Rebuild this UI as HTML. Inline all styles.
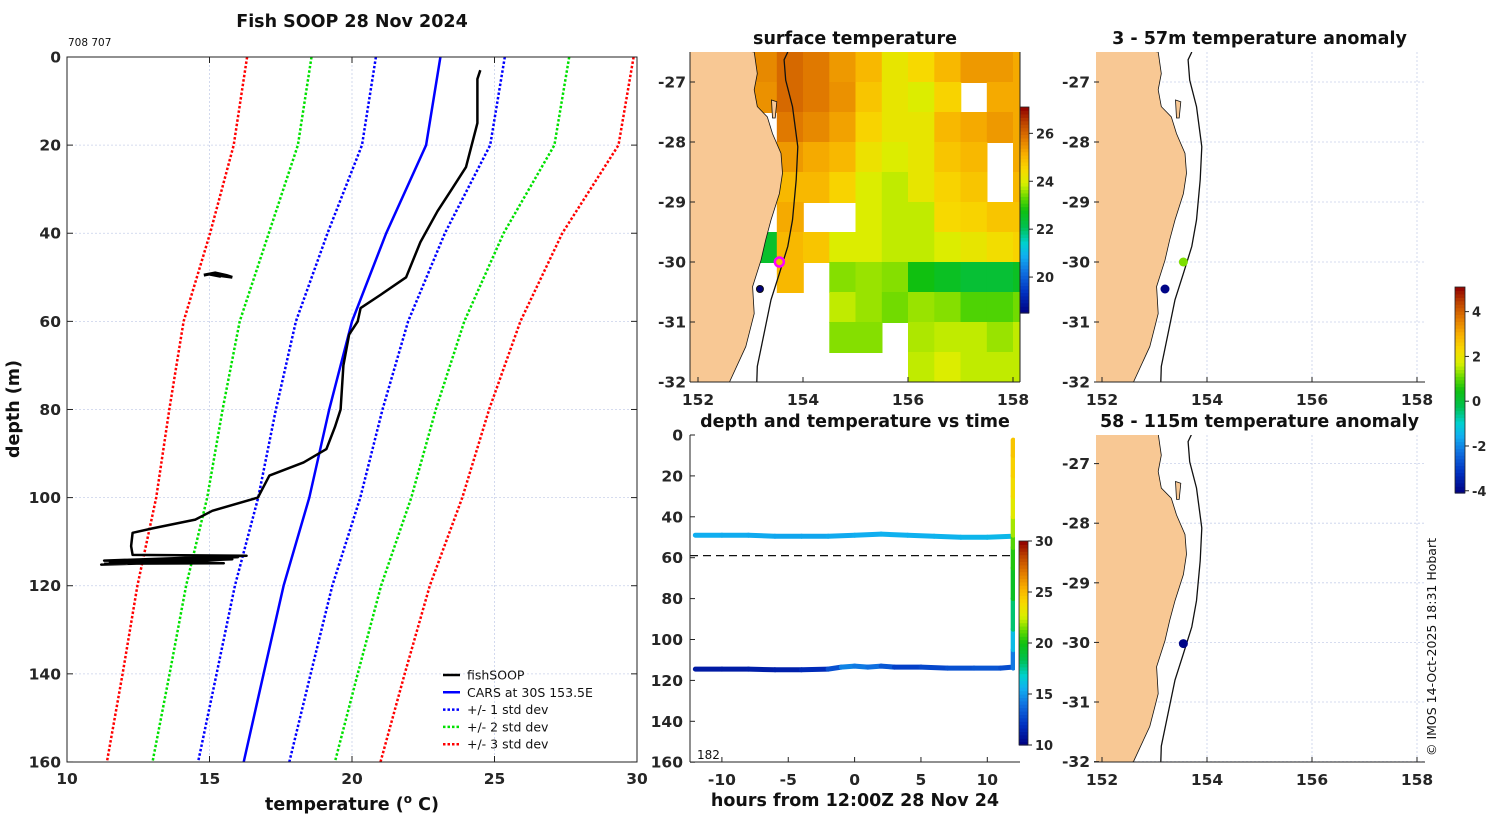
<!DOCTYPE html>
<html><head><meta charset="utf-8">
<style>
html,body{margin:0;padding:0;background:#fff;}
svg{display:block;font-family:"DejaVu Sans","Liberation Sans",sans-serif;}
.t{font-weight:bold;font-size:17.5px;fill:#111;}
.tk{font-weight:bold;font-size:15.5px;fill:#262626;}
.lg{font-size:12.5px;fill:#111;}
</style></head>
<body>
<svg id="fig" width="1500" height="820" viewBox="0 0 1500 820" xmlns="http://www.w3.org/2000/svg">
<defs>
<clipPath id="clipProf"><rect x="67" y="57" width="570" height="705"/></clipPath>
<clipPath id="clipSST"><rect x="690" y="52" width="330" height="330"/></clipPath>
<clipPath id="clipA1"><rect x="1096" y="52" width="329" height="330"/></clipPath>
<clipPath id="clipA2"><rect x="1096" y="435" width="329" height="327"/></clipPath>
<clipPath id="clipTS"><rect x="690" y="435" width="325" height="327"/></clipPath>
</defs>
<g id="profile"></g>
<g id="sst"></g>
<g id="anom1"></g>
<g id="anom2"></g>
<g id="ts"></g>
<text x="1436" y="647" transform="rotate(-90 1436 647)" text-anchor="middle" style="font-size:12.5px;fill:#111">© IMOS 14-Oct-2025 18:31 Hobart</text>
</svg>
<script>
// ---------- profile data ----------
const depthLevels=[0,20,40,60,80,100,120,140,160];
const carsMean=[23.1,22.6,21.2,20.0,19.2,18.5,17.6,16.9,16.2];
const carsStd=[2.26,2.25,2.06,1.97,1.87,1.79,1.71,1.65,1.6];
const fishT=[24.5,24.4,24.4,24.2,24.0,23.5,23.0,22.4,21.9,21.0,20.3,20.2,19.9,19.7,19.6,19.4,19.1,18.3,17.1,16.7,15.1,14.5,13.0,12.3,12.25,12.3,16.3,11.3,15.8,11.2,14.8,11.5,16.0,12.0,15.5,11.3];
const fishD=[3,5,15,20,25,30,35,42,50,54,57,60,63,70,80,84,89,92,95,100,103,105,107,108,111,113,113.2,114.3,114,115.2,114.6,114.8,113.5,114.2,114.9,115];
const blobT=[14.8,15.2,15.6,15.8,15.0,15.4];
const blobD=[49.5,49.0,49.6,50.0,49.3,49.8];
const tempTicks=[10,15,20,25,30];
const depthTicks=[0,20,40,60,80,100,120,140,160];
// ---------- SST map data ----------
const sstLons=[152,152.5,153,153.5,154,154.5,155,155.5,156,156.5,157,157.5,158];
const sstLats=[-26.5,-27,-27.5,-28,-28.5,-29,-29.5,-30,-30.5,-31,-31.5];
const sstVals=[
[null,null,25.6,26,25.8,25.4,25,24.2,24.5,25,25.4,25.4,25.2],
[null,null,25.5,26,25.8,25.5,24.8,24.2,24,24.6,null,25.2,25.2],
[null,null,null,25.8,25.6,25.3,24.6,24.2,24.2,25,25.2,25.4,25.2],
[null,null,null,25.4,25.2,25,24.3,24,24.2,24.8,25,null,25.2],
[null,null,null,25,25,24.6,24,23.8,24.2,24.6,24.8,null,25],
[null,null,null,25.2,null,null,24,23.8,23.8,24.5,24.6,24.8,24.8],
[null,null,22.5,25,24.8,24,24,23.8,23.8,24,24.2,24.4,24.6],
[null,null,null,25,null,23.5,23.6,23.5,22.8,22.6,22.4,22.4,22.6],
[null,null,null,null,null,23.8,23.6,23.4,23.6,23.5,23.2,23.2,23.4],
[null,null,null,null,null,23.5,23.5,null,23.7,23.8,23.8,23.6,23.8],
[null,null,null,null,null,null,null,null,23.8,24,23.8,23.8,23.8]];
const coastLon=[153.07,153.13,153.07,153.13,153.32,153.42,153.58,153.61,153.55,153.39,153.29,153.2,153.04,153.07,152.91,152.6];
const coastLat=[-26.5,-26.86,-27.13,-27.41,-27.58,-27.86,-28.19,-28.52,-28.86,-29.3,-29.63,-29.97,-30.41,-30.86,-31.41,-32.0];
const islandLon=[153.4,153.5,153.47,153.42];
const islandLat=[-27.3,-27.33,-27.6,-27.6];
const isoLon=[153.71,153.64,153.67,153.8,153.9,153.87,153.8,153.71,153.55,153.39,153.26,153.13,153.12];
const isoLat=[-26.5,-26.63,-26.97,-27.41,-28.08,-28.63,-29.3,-29.74,-30.19,-30.63,-31.19,-31.74,-32.0];
const lonTicks=[152,154,156,158];
const latTicks=[-27,-28,-29,-30,-31,-32];
const anom1Lon=[153.55,153.2];
const anom1Lat=[-30.0,-30.45];
const anom1Val=[1.2,-4];
const anom2Lon=[153.55];
const anom2Lat=[-30.02];
const anom2Val=[-4];
// ---------- time series data ----------
const b1Hours=[-12,-10,-8,-6,-4,-2,0,2,4,6,8,10,11.9];
const b1Depth=[49,49,49,49.5,49.5,49.5,49,48.5,49,49.5,50,50,49.5];
const b1Temp=[15.6,15.5,15.5,15.4,15.3,15.4,15.5,15.6,15.7,15.6,15.8,15.8,15.9];
const b2Hours=[-12,-10,-8,-6,-4,-2,-1,0,1,2,3,5,7,9,11,11.9];
const b2Depth=[114.5,114.5,114.5,114.8,114.8,114.5,113.5,113,113.5,113,113.5,113.5,114,114,114,113.5];
const b2Temp=[11.2,11.0,11.3,11.2,11.5,12.0,14.0,15.0,13.5,14.5,12.0,13.0,12.5,13.5,12.8,13.0];
const upHours=[11.95,11.95,11.95,11.95,11.95,11.95,11.95,11.95,11.95,11.95,11.95,11.95];
const upDepth=[114,105,95,80,65,55,49,40,30,20,10,2.5];
const upTemp=[13.5,15,17,19,20,20.5,21.5,22.5,23.5,24,24.5,24.8];
const hourTicks=[-10,-5,0,5,10];
const tsDepthTicks=[0,20,40,60,80,100,120,140,160];
const sstCbTicks=[20,22,24,26];
const tsCbTicks=[10,15,20,25,30];
const anCbTicks=[-4,-2,0,2,4];

// ---------- helpers ----------
const NS='http://www.w3.org/2000/svg';
function mk(parent,tag,attrs,txt){const e=document.createElementNS(NS,tag);for(const k in attrs)e.setAttribute(k,attrs[k]);if(txt!==undefined)e.textContent=txt;parent.appendChild(e);return e;}
const stops=[[0,'#000080'],[0.1,'#0030c0'],[0.2,'#1070e0'],[0.28,'#10b0f0'],[0.34,'#00d0d0'],[0.42,'#00c050'],[0.5,'#10c010'],[0.56,'#60d800'],[0.63,'#d8f000'],[0.7,'#f8d800'],[0.77,'#f8b000'],[0.85,'#e07800'],[0.92,'#c04800'],[1,'#900000']];
function hx(c){return [parseInt(c.substr(1,2),16),parseInt(c.substr(3,2),16),parseInt(c.substr(5,2),16)];}
function cmap(t){t=Math.max(0,Math.min(1,t));for(let i=1;i<stops.length;i++){if(t<=stops[i][0]){const a=stops[i-1],b=stops[i];const f=(t-a[0])/(b[0]-a[0]);const A=hx(a[1]),B=hx(b[1]);return 'rgb('+A.map((v,j)=>Math.round(v+(B[j]-v)*f)).join(',')+')';}}return stops[stops.length-1][1];}
function pts(xs,ys,fx,fy){return xs.map((v,i)=>fx(v).toFixed(1)+','+fy(ys[i]).toFixed(1)).join(' ');}

// ---------- profile chart ----------
(function(){
const g=document.getElementById('profile');
const X=t=>67+(t-10)*28.5, Y=d=>57+d*4.406;
tempTicks.forEach(t=>{const l=mk(g,'line',{x1:X(t),x2:X(t),y1:57,y2:762,stroke:'#c8d0ea','stroke-width':0.8,'stroke-dasharray':'2,2'});

});
depthTicks.forEach(d=>{const l=mk(g,'line',{x1:67,x2:637,y1:Y(d),y2:Y(d),stroke:'#c8d0ea','stroke-width':0.8,'stroke-dasharray':'2,2'});

});
const c=mk(g,'g',{'clip-path':'url(#clipProf)'});
const series=[[3,'#ff0000'],[2,'#00e000'],[1,'#0000ff']];
series.forEach(([k,col])=>{[-1,1].forEach(s=>{const p=mk(c,'polyline',{points:pts(carsMean.map((m,i)=>m+s*k*carsStd[i]),depthLevels,X,Y),fill:'none',stroke:col,'stroke-width':2.5,'stroke-dasharray':'2.5,2'});

});});
const m=mk(c,'polyline',{points:pts(carsMean,depthLevels,X,Y),fill:'none',stroke:'#0000ff','stroke-width':2.5});


const f=mk(c,'polyline',{points:pts(fishT,fishD,X,Y),fill:'none',stroke:'#000','stroke-width':2.5,'stroke-linejoin':'round'});


const b=mk(c,'polyline',{points:pts(blobT,blobD,X,Y),fill:'none',stroke:'#000','stroke-width':3});


mk(g,'rect',{x:67,y:57,width:570,height:705,fill:'none',stroke:'#222','stroke-width':1});
tempTicks.forEach(t=>{mk(g,'line',{x1:X(t),x2:X(t),y1:762,y2:756,stroke:'#222'});mk(g,'line',{x1:X(t),x2:X(t),y1:57,y2:63,stroke:'#222'});
const tx=mk(g,'text',{x:X(t),y:784,'text-anchor':'middle',class:'tk'},t);

});
depthTicks.forEach(d=>{mk(g,'line',{x1:67,x2:73,y1:Y(d),y2:Y(d),stroke:'#222'});mk(g,'line',{x1:637,x2:631,y1:Y(d),y2:Y(d),stroke:'#222'});
const tx=mk(g,'text',{x:61,y:Y(d)+5.5,'text-anchor':'end',class:'tk'},d);

});
const tt=mk(g,'text',{x:352,y:27,'text-anchor':'middle',class:'t'},'Fish SOOP 28 Nov 2024');


const id=mk(g,'text',{x:68,y:46,style:'font-size:10.5px;fill:#111'},'708 707');


const xt=mk(g,'text',{x:352,y:810,'text-anchor':'middle',class:'t'});
xt.innerHTML='temperature (<tspan dy="-7" style="font-size:12px">o</tspan><tspan dy="7"> C)</tspan>';


const yt=mk(g,'text',{x:19,y:409,'text-anchor':'middle',class:'t',transform:'rotate(-90 19 409)'},'depth (m)');


const leg=[['fishSOOP','#000',''],['CARS at 30S 153.5E','#0000ff',''],['+/- 1 std dev','#0000ff','2.5,2'],['+/- 2 std dev','#00e000','2.5,2'],['+/- 3 std dev','#ff0000','2.5,2']];
leg.forEach((e,i)=>{const y=675+i*17.3;const le=mk(g,'g',{});


mk(le,'line',{x1:443,x2:460,y1:y,y2:y,stroke:e[1],'stroke-width':2.5,'stroke-dasharray':e[2]});
mk(le,'text',{x:467,y:y+4.5,class:'lg'},e[0]);});
})();

// ---------- map helper ----------
function drawMap(gid,x0,x1,y0,y1,latTop,pxLat,clip,opts){
const g=document.getElementById(gid);
const X=lon=>(x0+ (lon-152)*52.5), Y=lat=>y0+(latTop-lat)*pxLat;
const c=mk(g,'g',{'clip-path':'url(#'+clip+')'});
if(opts.sst){sstVals.forEach((row,r)=>row.forEach((v,k)=>{if(v===null)return;const rc=mk(c,'rect',{x:X(sstLons[k]).toFixed(1),y:Y(sstLats[r]).toFixed(1),width:27,height:(0.5*pxLat+1).toFixed(1),fill:cmap((v-18.5)/8.6)});

}));}
else{
lonTicks.forEach(l=>{mk(c,'line',{x1:X(l),x2:X(l),y1:y0-40,y2:y1,stroke:'#c8d0ea','stroke-width':0.8,'stroke-dasharray':'2,2'});});
latTicks.forEach(l=>{mk(c,'line',{x1:x0-20,x2:x1,y1:Y(l),y2:Y(l),stroke:'#c8d0ea','stroke-width':0.8,'stroke-dasharray':'2,2'});});}
const landP=pts(coastLon,coastLat,X,Y)+' '+X(151.5)+','+Y(-32.2)+' '+X(151.5)+','+Y(-26.3);
const land=mk(c,'polygon',{points:landP,fill:'#f8c894',stroke:'#111','stroke-width':0.8});


mk(c,'polygon',{points:pts(islandLon,islandLat,X,Y),fill:'#f8c894',stroke:'#111','stroke-width':0.8});
const iso=mk(c,'polyline',{points:pts(isoLon,isoLat,X,Y),fill:'none',stroke:'#111','stroke-width':1.3});


if(opts.sst){
const d=mk(g,'circle',{cx:X(153.18),cy:Y(-30.45),r:3.5,fill:'#00007a',stroke:'#111','stroke-width':1});


const r=mk(g,'circle',{cx:X(153.55),cy:Y(-30),r:4.5,fill:'#f0c000',stroke:'#ff00ff','stroke-width':2.5});

}
(opts.plon||[]).forEach((lo,i)=>{const p=mk(g,'circle',{cx:X(lo),cy:Y(opts.plat[i]),r:4.5,fill:cmap((opts.pval[i]+4.1)/9.2)});

});
mk(g,'line',{x1:x0-8,x2:x1,y1:y1,y2:y1,stroke:'#222'});
if(opts.sst){mk(g,'line',{x1:x0-8,x2:x0-8,y1:y0,y2:y1,stroke:'#222'});mk(g,'line',{x1:x1,x2:x1,y1:y0,y2:y1,stroke:'#222'});}
lonTicks.forEach(l=>{mk(g,'line',{x1:X(l),x2:X(l),y1:y1,y2:y1-5,stroke:'#222'});
const tx=mk(g,'text',{x:X(l),y:y1+23,'text-anchor':'middle',class:'tk'},l);

});
latTicks.forEach(l=>{mk(g,'line',{x1:x0-8,x2:x0-3,y1:Y(l),y2:Y(l),stroke:'#222'});
const tx=mk(g,'text',{x:x0-12,y:Y(l)+5.5,'text-anchor':'end',class:'tk'},l);

});
const tt=mk(g,'text',{x:(x0+x1)/2-4,y:y0-8,'text-anchor':'middle',class:'t'},opts.title);


}
drawMap('sst',698,1020,52,382,-26.5,60,'clipSST',{sst:true,title:'surface temperature'});
drawMap('anom1',1102,1425,52,382,-26.5,60,'clipA1',{title:'3 - 57m temperature anomaly',plon:anom1Lon,plat:anom1Lat,pval:anom1Val});
drawMap('anom2',1102,1425,435,762,-26.52,59.6,'clipA2',{title:'58 - 115m temperature anomaly',plon:anom2Lon,plat:anom2Lat,pval:anom2Val});

// ---------- colorbars ----------
function colorbar(parent,name,x,y,w,h,vmin,vmax,ticks){
const g=mk(document.getElementById(parent),'g',{});


const n=60;for(let i=0;i<n;i++){mk(g,'rect',{x:x,y:(y+h-(i+1)*h/n).toFixed(2),width:w,height:(h/n+0.6).toFixed(2),fill:cmap((i+0.5)/n)});}
mk(g,'rect',{x:x,y:y,width:w,height:h,fill:'none',stroke:'#222','stroke-width':0.8});
ticks.forEach(t=>{const ty=y+h-(t-vmin)/(vmax-vmin)*h;mk(g,'line',{x1:x+w,x2:x+w+4,y1:ty,y2:ty,stroke:'#222'});
mk(g,'text',{x:x+w+7,y:ty+5,class:'tk',style:'font-size:13px'},t);});}
colorbar('sst','sst-colorbar',1020,107,9,206,18.5,27.1,sstCbTicks);
colorbar('anom1','anomaly-colorbar',1455,287,10,206,-4.1,5.1,anCbTicks);
colorbar('ts','temperature-colorbar',1019,541,9,204,10,30,tsCbTicks);

// ---------- depth-time chart ----------
(function(){
const g=document.getElementById('ts');
const X=h=>854.6+h*13.27, Y=d=>435+d*2.045;
const c=mk(g,'g',{'clip-path':'url(#clipTS)'});
const dl=mk(c,'line',{x1:690,x2:1015,y1:Y(59),y2:Y(59),stroke:'#111','stroke-width':1.2,'stroke-dasharray':'8,5'});


function track(hs,ds,ts,name){const tg=mk(c,'g',{});


for(let i=0;i<hs.length-1;i++){mk(tg,'line',{x1:X(hs[i]),y1:Y(ds[i]),x2:X(hs[i+1]),y2:Y(ds[i+1]),stroke:cmap(((ts[i]+ts[i+1])/2-10)/20),'stroke-width':5,'stroke-linecap':'round'});}}
track(b1Hours,b1Depth,b1Temp,'track-shallow');
track(b2Hours,b2Depth,b2Temp,'track-deep');
track(upHours,upDepth,upTemp,'track-ascent');
mk(g,'line',{x1:690,x2:690,y1:435,y2:762,stroke:'#222'});
mk(g,'line',{x1:690,x2:1020,y1:762,y2:762,stroke:'#222'});
hourTicks.forEach(h=>{mk(g,'line',{x1:X(h),x2:X(h),y1:762,y2:757,stroke:'#222'});
const tx=mk(g,'text',{x:X(h),y:785,'text-anchor':'middle',class:'tk'},h);

});
tsDepthTicks.forEach(d=>{mk(g,'line',{x1:690,x2:695,y1:Y(d),y2:Y(d),stroke:'#222'});
const tx=mk(g,'text',{x:683,y:Y(d)+5.5,'text-anchor':'end',class:'tk'},d);

});
const tt=mk(g,'text',{x:855,y:427,'text-anchor':'middle',class:'t'},'depth and temperature vs time');


const xt=mk(g,'text',{x:855,y:806,'text-anchor':'middle',class:'t'},'hours from 12:00Z 28 Nov 24');


const n=mk(g,'text',{x:697,y:759,style:'font-size:12px;fill:#111'},'182');


})();
</script>
</body></html>
